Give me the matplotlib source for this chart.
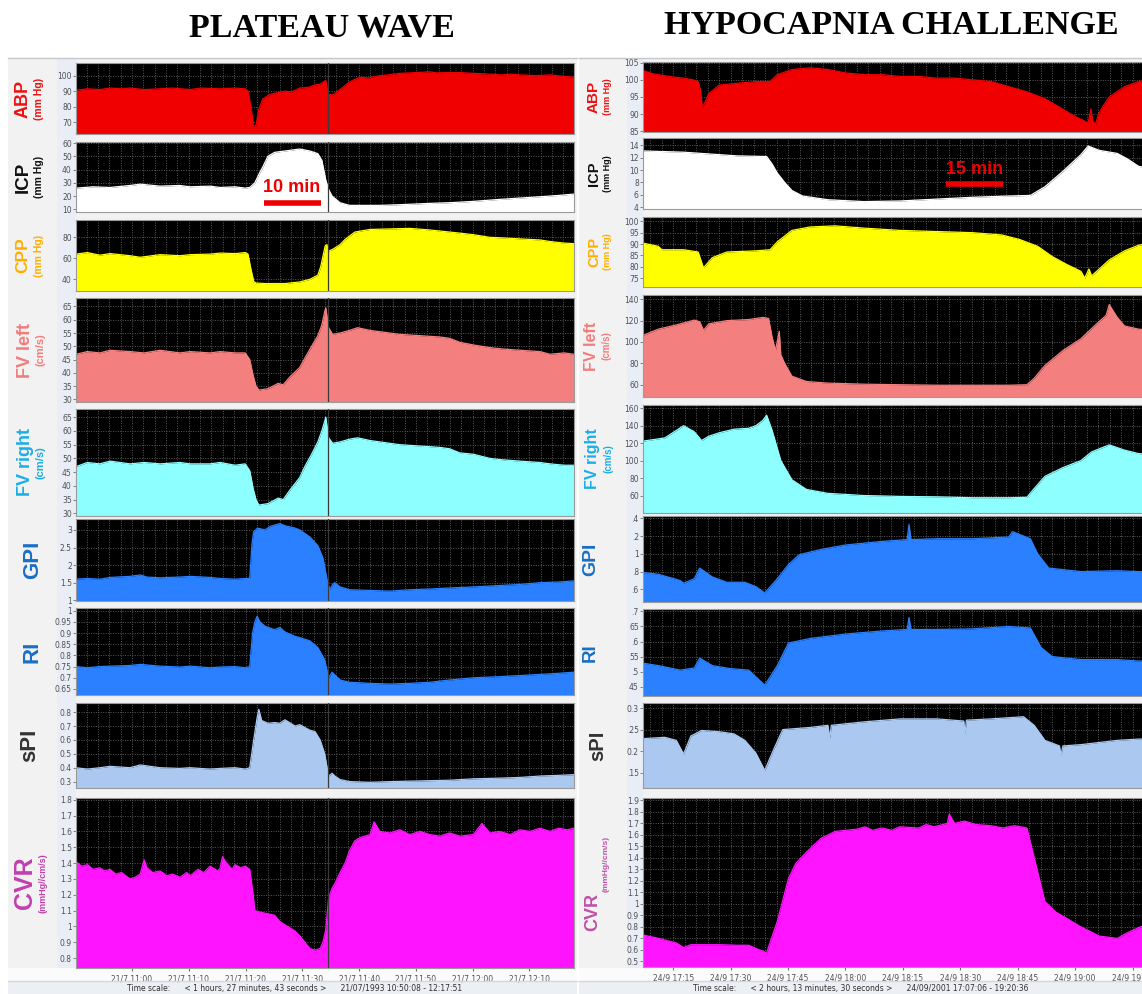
import matplotlib.pyplot as plt
from matplotlib.patches import Rectangle
from matplotlib.lines import Line2D

# ---------------- data: (minutes from start, value) ----------------
# left column: 21/07/1993 10:50:08 - 12:17:51
abp_left = [(0, 90.5), (2, 91.5), (4.2, 91), (6, 92), (8, 91.5), (9.5, 92), (12, 91), (14.8, 91.5),
            (17, 92), (20.1, 91), (22, 92), (25.4, 91.5), (28, 92), (29.8, 91.5), (30.3, 90), (30.8, 80),
            (31.3, 67), (31.7, 68), (32.2, 78), (32.9, 85), (34.2, 88), (36.8, 90), (38, 89.5), (39.4, 92),
            (41, 92.5), (42.1, 94), (43, 94.5), (44.0, 97), (44.4, 88), (45.2, 87.5), (46.5, 91), (48.2, 96),
            (50, 99), (51.5, 98.5), (53.5, 100), (55, 100.5), (57, 101.5), (60, 102), (62.3, 102.5),
            (63.5, 101.8), (65, 102), (67.6, 102), (70, 101.5), (72.9, 101), (75, 100.5), (76.5, 101),
            (78.2, 100.5), (81, 100), (83.5, 100.5), (86, 99.5), (87.7, 99)]
icp_left = [(0, 26), (3, 27), (6, 26.5), (9.5, 28), (11.3, 29), (14.8, 27.5), (18.3, 28), (20.1, 27),
            (23.6, 27.5), (25.4, 26.5), (28, 27), (29.8, 26), (30.6, 26.5), (31.5, 30), (32.4, 38),
            (32.9, 42), (33.8, 50), (35, 53), (36.8, 54), (39.4, 55.5), (41.2, 54), (42.6, 52), (43.3, 47),
            (44.0, 32), (44.5, 25), (45.1, 20), (46.5, 15), (48.2, 13), (53.5, 13), (57, 13.5), (62.3, 14.5),
            (65.8, 15), (70, 16), (74.6, 17.5), (78.2, 18.5), (81.7, 19.5), (85, 20.5), (87.7, 21.5)]
cpp_left = [(0, 64), (2, 65.5), (4.2, 63), (6, 64.5), (9.5, 62.5), (11.3, 61), (14.8, 63.5), (18.3, 62.5),
            (20.1, 63.5), (23.6, 64), (25.4, 65), (28, 64.5), (29.8, 65.5), (30.3, 64), (30.8, 50),
            (31.3, 38), (31.7, 36.5), (33.3, 36), (36.8, 36), (39.4, 37.5), (41.2, 40), (42.6, 44),
            (43.1, 52), (43.5, 62), (43.9, 72), (44.2, 73), (44.5, 67), (45.2, 68.5), (46.5, 73), (47.4, 78),
            (49.1, 85), (51.8, 87.5), (55.3, 88), (58.8, 88.5), (62.3, 87), (64.1, 86), (67.6, 84),
            (70, 82.5), (72.9, 80), (75, 79.5), (78.2, 78.5), (81.7, 77.5), (83.5, 76), (86, 74.5), (87.7, 74)]
fvl_left = [(0, 47), (2, 48), (4.2, 47.5), (6, 48.5), (9.5, 48), (12, 47.5), (14.8, 48.5), (18.3, 47.5),
            (20.1, 48), (23.6, 47.5), (25.4, 48), (28, 47.5), (29.8, 47.5), (30.6, 45), (31.2, 39),
            (31.7, 35), (32.2, 33.5), (33.8, 34), (35.6, 36), (36.5, 35.5), (37.7, 38.5), (39.4, 42),
            (40.3, 45.5), (41.5, 50), (42.6, 54), (43.3, 58), (43.8, 63), (44.0, 64.5), (44.5, 57),
            (45.2, 54.5), (46.5, 55), (48.2, 56), (49.6, 57), (51.8, 56), (53.5, 55.5), (57, 54.5),
            (60.6, 54), (64.1, 53.5), (65.8, 53), (67.6, 51.5), (70, 50.5), (72.9, 49.5), (75, 49),
            (78.2, 48.5), (81.7, 48), (83.5, 47), (86, 47.5), (87.7, 47)]
fvr_left = [(0, 47), (2, 48.5), (4.2, 48), (6, 49), (9.5, 48), (12, 48.5), (14.8, 48), (18.3, 48.5),
            (20.1, 48), (23.6, 48), (25.4, 48.5), (28, 47.5), (29.8, 48), (30.6, 45.5), (31.2, 39),
            (31.7, 35), (32.2, 33), (33.8, 33.5), (35.6, 35.5), (36.5, 35), (37.7, 38.5), (39.4, 43),
            (40.3, 47), (41.5, 51.5), (42.6, 56), (43.3, 60), (43.8, 63.5), (44.0, 65), (44.5, 57.5),
            (45.2, 55.5), (46.5, 56), (48.2, 57), (49.6, 57.5), (51.8, 56.5), (53.5, 56), (57, 55),
            (60.6, 54.5), (64.1, 54), (65.8, 53.5), (67.6, 52), (70, 51.5), (72.9, 50), (75, 49.5),
            (78.2, 49), (81.7, 48.5), (83.5, 48), (86, 47.5), (87.7, 47.5)]
gpi_left = [(0, 1.6), (2, 1.62), (4.2, 1.6), (6, 1.65), (9.5, 1.68), (11.3, 1.72), (12.5, 1.66),
            (14.8, 1.64), (18.3, 1.66), (20.1, 1.68), (23.6, 1.65), (25.4, 1.62), (28, 1.6), (29.8, 1.62),
            (30.6, 1.62), (31.0, 2.6), (31.3, 2.95), (32.0, 3.05), (33.3, 3.0), (34.2, 3.1), (35.9, 3.18),
            (36.8, 3.12), (38.6, 3.05), (39.4, 3.0), (41.2, 2.8), (42.6, 2.55), (43.5, 2.2), (44.2, 1.6),
            (44.7, 1.3), (45.2, 1.45), (45.6, 1.5), (46.5, 1.38), (48.2, 1.3), (51.8, 1.28), (55.3, 1.26),
            (58.8, 1.3), (62.3, 1.32), (65.8, 1.35), (70, 1.38), (74.6, 1.42), (78.2, 1.45), (81.7, 1.5),
            (85, 1.52), (87.7, 1.55)]
ri_left = [(0, 0.75), (2, 0.745), (4.2, 0.75), (6, 0.752), (9.5, 0.755), (11.3, 0.76), (14.8, 0.752),
           (18.3, 0.748), (20.1, 0.752), (23.6, 0.745), (25.4, 0.748), (28, 0.75), (29.8, 0.745),
           (30.6, 0.75), (31.1, 0.9), (31.5, 0.95), (31.9, 0.975), (32.4, 0.95), (33.3, 0.93), (35, 0.915),
           (35.9, 0.925), (36.8, 0.905), (38.6, 0.885), (39.4, 0.88), (41.2, 0.865), (42.6, 0.835),
           (43.8, 0.78), (44.5, 0.7), (45.1, 0.725), (46.5, 0.69), (48.2, 0.68), (51.8, 0.675),
           (55.3, 0.672), (58.8, 0.675), (62.3, 0.68), (65.8, 0.69), (70, 0.70), (74.6, 0.705),
           (78.2, 0.71), (81.7, 0.715), (85, 0.72), (87.7, 0.725)]
spi_left = [(0, 0.40), (2, 0.39), (4.2, 0.40), (6, 0.41), (9.5, 0.40), (11.3, 0.42), (14.8, 0.40),
            (18.3, 0.395), (20.1, 0.40), (23.6, 0.39), (25.4, 0.395), (28, 0.40), (29.8, 0.39), (30.6, 0.40),
            (31.3, 0.6), (31.9, 0.76), (32.2, 0.82), (32.7, 0.74), (33.8, 0.72), (35, 0.725), (35.9, 0.72),
            (36.8, 0.745), (38.6, 0.70), (39.4, 0.71), (41.2, 0.67), (42.1, 0.66), (43.0, 0.60),
            (43.8, 0.50), (44.5, 0.34), (45.1, 0.36), (45.6, 0.34), (46.5, 0.315), (48.2, 0.30),
            (51.8, 0.295), (55.3, 0.30), (60.6, 0.305), (65.8, 0.31), (70, 0.32), (74.6, 0.325),
            (78.2, 0.33), (81.7, 0.34), (85, 0.345), (87.7, 0.35)]
cvr_left = [(0, 1.41), (1, 1.38), (2, 1.39), (3, 1.36), (4.2, 1.37), (5, 1.35), (6, 1.36), (7, 1.33),
            (8, 1.34), (9.5, 1.30), (10.4, 1.31), (11.3, 1.33), (12, 1.42), (12.5, 1.37), (13.5, 1.34),
            (14.8, 1.35), (16, 1.32), (17, 1.33), (18.3, 1.31), (19.5, 1.34), (20.1, 1.32), (21.5, 1.36),
            (22.5, 1.34), (23.6, 1.38), (25, 1.35), (25.4, 1.37), (25.8, 1.44), (26.5, 1.40), (27.5, 1.36),
            (28, 1.39), (29, 1.37), (29.8, 1.38), (30.6, 1.36), (31.2, 1.20), (31.5, 1.10), (32.4, 1.09),
            (33.8, 1.08), (35, 1.07), (35.9, 1.03), (36.8, 1.01), (37.7, 0.99), (38.6, 0.97), (39.4, 0.94),
            (40.3, 0.90), (41.2, 0.86), (42.1, 0.85), (43.0, 0.86), (43.5, 0.90), (44.0, 0.98), (44.5, 1.18),
            (45.1, 1.24), (45.6, 1.27), (46.5, 1.34), (47.4, 1.40), (48.2, 1.48), (49.1, 1.54), (50, 1.56),
            (51.8, 1.58), (52.5, 1.66), (53.5, 1.60), (55.3, 1.59), (57, 1.61), (58.8, 1.58), (60.6, 1.60),
            (62.3, 1.58), (64.1, 1.57), (65.8, 1.59), (67.6, 1.57), (70, 1.58), (71.5, 1.65), (72.9, 1.59),
            (74.6, 1.60), (76.5, 1.58), (78.2, 1.61), (80, 1.60), (81.7, 1.62), (83.5, 1.60), (85, 1.62),
            (86.5, 1.61), (87.7, 1.62)]

# right column: 24/09/2001 17:07:06 - 19:20:36
abp_right = [(0, 103), (0.3, 102.6), (2.5, 101.8), (5.7, 101.2), (8, 100.8), (10.6, 100.5), (13, 100),
             (14.4, 99.5), (15.0, 97), (15.5, 92), (16.2, 93.5), (17.2, 96), (20.0, 98.5), (24.7, 99),
             (29.5, 99.5), (33.2, 99.5), (35.1, 101.5), (38.9, 103), (43.6, 103.5), (48.3, 103),
             (53.0, 102), (57.7, 101.5), (62.4, 101.5), (67.2, 101), (72.0, 101), (76.7, 100.5),
             (81.4, 100.5), (86.1, 100), (90.9, 99.5), (95.6, 98), (100.3, 96.5), (105.0, 94.5),
             (108.8, 92), (112.6, 89.5), (114.4, 88.5), (116.3, 87.5), (117.0, 91.5), (117.5, 88),
             (118.2, 87), (119, 90), (120.0, 92), (121.8, 95), (125.8, 98), (129.5, 99.5), (133.5, 100.5)]
icp_right = [(0, 13.1), (10.6, 12.9), (20, 12.5), (24.7, 12.3), (32.3, 12.2), (33.7, 11), (35.1, 9.5),
             (37, 8), (38.9, 6.7), (41.7, 5.8), (48.3, 5.2), (57.7, 4.9), (67.2, 5.0), (76.7, 5.3),
             (86.1, 5.6), (95.6, 5.8), (101.2, 5.9), (105, 7.3), (109.7, 9.8), (114.4, 12.5), (116.3, 13.9),
             (119.2, 13.2), (123.9, 12.7), (126.6, 11.8), (129.5, 10.6), (133.5, 10.2)]
cpp_right = [(0, 90.5), (0.3, 90.3), (4.0, 89), (4.9, 87.5), (10.6, 87.5), (14.4, 86.5), (15.8, 79.5),
             (18.1, 84), (21.9, 86.5), (29.5, 87), (33.2, 87.5), (35.1, 91), (38.9, 96), (43.6, 97.5),
             (50.2, 98), (57.7, 97), (67.2, 96), (76.7, 95.5), (86.1, 95), (93.7, 94), (98.4, 92),
             (103.1, 89), (106.9, 84.5), (110.7, 81), (114.4, 78), (115.4, 75), (116.5, 79), (117.2, 76),
             (118.2, 77.5), (121.8, 83), (125.8, 87), (129.5, 89.5), (133.5, 90.5)]
fvl_right = [(0, 106), (0.3, 106.7), (4.0, 112), (8.7, 116), (13.4, 120.5), (14.8, 119), (15.8, 111),
             (17.2, 117), (21.9, 120), (27.6, 121), (31.3, 123), (32.8, 122), (33.7, 105), (34.6, 92),
             (35.6, 110), (36.0, 88), (37.0, 80), (38.9, 68), (42.7, 63), (48.3, 61.5), (57.7, 60.5),
             (67.2, 60), (76.7, 59.5), (86.1, 59.5), (95.6, 59.5), (100.3, 60), (102.2, 66), (105, 78),
             (109.7, 92), (114.4, 103), (118.2, 116), (121, 125), (121.8, 135), (123.9, 123), (125.8, 115),
             (129.5, 112), (133.5, 111)]
fvr_right = [(0, 122), (0.3, 122.5), (5.7, 126), (10.6, 140), (13.4, 133), (15.3, 123), (17.2, 128),
             (20, 132), (23.8, 136), (27.6, 137), (29.5, 140), (31.3, 146), (32.3, 152), (33.7, 135),
             (36.0, 100), (38.9, 78), (42.7, 67), (48.3, 62.5), (57.7, 60), (67.2, 59), (76.7, 58.5),
             (86.1, 57.5), (95.6, 57.5), (100.3, 58), (102.2, 68), (105, 82), (109.7, 92), (114.4, 100),
             (117.2, 110), (121.8, 118), (125.8, 112), (129.5, 108), (133.5, 107)]
gpi_right = [(0, 0.79), (4.0, 0.77), (9.7, 0.70), (10.6, 0.67), (13.4, 0.72), (14.8, 0.84), (18.1, 0.74),
             (21.9, 0.68), (26.6, 0.68), (29.5, 0.63), (31.8, 0.56), (35.1, 0.72), (38.0, 0.88), (40.8, 0.99),
             (46.5, 1.05), (53.0, 1.10), (62.4, 1.14), (69.0, 1.16), (69.5, 1.33), (70, 1.16), (76.7, 1.17),
             (86.1, 1.17), (95.6, 1.19), (96.5, 1.25), (101.2, 1.17), (103.1, 1.0), (106, 0.84),
             (114.4, 0.80), (123.9, 0.81), (129.5, 0.80), (133.5, 0.80)]
ri_right = [(0, 0.528), (4.0, 0.52), (9.7, 0.505), (13.4, 0.512), (14.8, 0.545), (18.1, 0.52),
            (22.8, 0.51), (27.6, 0.505), (31.8, 0.455), (35.1, 0.52), (38.0, 0.595), (43.6, 0.61),
            (53.0, 0.625), (62.4, 0.635), (69.0, 0.64), (69.5, 0.68), (70, 0.64), (76.7, 0.64), (86.1, 0.642),
            (95.6, 0.65), (101.2, 0.645), (104, 0.58), (106.9, 0.55), (114.4, 0.54), (123.9, 0.54),
            (129.5, 0.535), (133.5, 0.535)]
spi_right = [(0, 0.229), (5.7, 0.232), (8.7, 0.225), (10.6, 0.193), (12.5, 0.235), (15.3, 0.248),
             (20, 0.245), (23.8, 0.24), (26.6, 0.225), (29.5, 0.195), (31.8, 0.155), (34.2, 0.205),
             (36.5, 0.25), (43.6, 0.255), (48.3, 0.26), (48.8, 0.23), (49.2, 0.26), (57.7, 0.268),
             (67.2, 0.275), (76.7, 0.275), (83.8, 0.27), (84.1, 0.24), (84.5, 0.272), (90.9, 0.275),
             (99.4, 0.28), (102.2, 0.26), (105, 0.225), (108.8, 0.212), (109.2, 0.19), (109.7, 0.212),
             (114.4, 0.215), (123.9, 0.225), (129.5, 0.228), (133.5, 0.228)]
cvr_right = [(0, 0.73), (4.0, 0.70), (8.7, 0.66), (10.6, 0.62), (12.5, 0.645), (20, 0.645), (24.7, 0.64),
             (27.6, 0.64), (30.4, 0.60), (32.3, 0.575), (35.1, 0.85), (38.0, 1.22), (39.9, 1.35),
             (42.7, 1.45), (46.5, 1.57), (50.2, 1.63), (55.9, 1.65), (58, 1.67), (60, 1.64), (62.4, 1.66),
             (65, 1.64), (67, 1.67), (72.0, 1.66), (74, 1.69), (76, 1.67), (79.5, 1.70), (80, 1.78),
             (81.4, 1.70), (84, 1.72), (87, 1.69), (90.9, 1.68), (94, 1.66), (97, 1.68), (100.3, 1.66),
             (102.2, 1.4), (105, 1.02), (107.8, 0.93), (114.4, 0.80), (119.2, 0.72), (123.9, 0.70),
             (126.6, 0.75), (129.9, 0.80), (133.5, 0.82)]

left_names = ["ABP", "ICP", "CPP", "FV left", "FV right", "GPI", "RI", "sPI", "CVR"]
left_units = ["(mm Hg)", "(mm Hg)", "(mm Hg)", "(cm/s)", "(cm/s)", None, None, None, "(mmHg//cm/s)"]
left_data = [abp_left, icp_left, cpp_left, fvl_left, fvr_left, gpi_left, ri_left, spi_left, cvr_left]
right_data = [abp_right, icp_right, cpp_right, fvl_right, fvr_right, gpi_right, ri_right, spi_right, cvr_right]

left_yticks = [[70, 80, 90, 100], [10, 20, 30, 40, 50, 60], [40, 60, 80], [30, 35, 40, 45, 50, 55, 60, 65],
               [30, 35, 40, 45, 50, 55, 60, 65], [1, 1.5, 2, 2.5, 3],
               [0.65, 0.7, 0.75, 0.8, 0.85, 0.9, 0.95, 1], [0.3, 0.4, 0.5, 0.6, 0.7, 0.8],
               [0.8, 0.9, 1, 1.1, 1.2, 1.3, 1.4, 1.5, 1.6, 1.7, 1.8]]
right_yticks = [[85, 90, 95, 100, 105], [4, 6, 8, 10, 12, 14], [75, 80, 85, 90, 95, 100],
                [60, 80, 100, 120, 140], [60, 80, 100, 120, 140, 160], [0.6, 0.8, 1, 1.2, 1.4],
                [0.45, 0.5, 0.55, 0.6, 0.65, 0.7], [0.15, 0.2, 0.25, 0.3],
                [0.5, 0.6, 0.7, 0.8, 0.9, 1, 1.1, 1.2, 1.3, 1.4, 1.5, 1.6, 1.7, 1.8, 1.9]]
# truncated labels as printed on the right-hand screen capture
right_ylabels = [None, None, None, None, None, [".6", ".8", "1", ".2", ".4"],
                 ["45", ".5", "55", ".6", "65", ".7"], [".15", "0.2", ".25", "0.3"], None]

left_start = (10 * 60 + 50 + 8 / 60, 87.72)     # (clock minutes, duration)
right_start = (17 * 60 + 7 + 6 / 60, 133.5)
left_tick_clock = ["11:00", "11:10", "11:20", "11:30", "11:40", "11:50", "12:00", "12:10"]
right_tick_clock = ["17:15", "17:30", "17:45", "18:00", "18:15", "18:30", "18:45", "19:00", "19:15"]

# ---------------- styling / layout ----------------
fills = ["#f00000", "#ffffff", "#ffff00", "#f47f7f", "#8effff", "#2a80ff", "#2a80ff", "#aac8f0", "#ff14ff"]
label_colors = ["#ee1111", "#111111", "#ffae00", "#f27c7c", "#19aee8", "#1a6fc4", "#1a6fc4", "#333333", "#c23fae"]

left_ylim = [(62.3, 108.2), (8, 60.8), (28.9, 96.5), (29, 68.2), (29, 68), (0.98, 3.31), (0.623, 1.012),
             (0.254, 0.866), (0.737, 1.811)]
right_ylim = [(84.8, 105.2), (3.7, 15.2), (71.1, 101.9), (48.5, 144), (40, 163.7), (0.458, 1.426),
              (0.419, 0.708), (0.114, 0.312), (0.451, 1.921)]
left_rows = [(63, 134), (142, 212), (220, 291), (298, 402), (409, 516), (519, 601), (608, 695), (703, 788), (798, 968)]
right_rows = [(62, 132), (138, 209), (217, 287), (295, 397), (405, 513), (516, 602), (609, 696), (703, 788), (798, 967)]
left_x = (76, 574)
right_x = (643, 1154)

left_lab = [(23, 13, 39, 7.5), (23, 13.5, 39, 7.5), (23, 12.5, 39, 7.5), (25, 13, 40, 8), (25, 13, 40, 8),
            (33, 16, 0, 0), (32, 16, 0, 0), (30, 16, 0, 0), (25, 18, 43, 6.5)]
right_lab = [(594, 11, 608, 6.5), (594, 10.5, 608, 6.5), (594, 10.5, 608, 6.5), (592, 11.5, 607, 7),
             (593, 11.5, 608, 7), (591, 14, 0, 0), (590, 13.5, 0, 0), (598, 14.5, 0, 0), (593, 13, 606, 6)]

W, H = 1142, 994
fig = plt.figure(figsize=(W / 100, H / 100), dpi=100)
fig.patch.set_facecolor("white")


def fx(x):
    return x / W


def fy(y):
    return 1 - y / H


def rect(x0, y0, x1, y1, color, z=0):
    fig.add_artist(Rectangle((fx(x0), fy(y1)), (x1 - x0) / W, (y1 - y0) / H,
                             transform=fig.transFigure, color=color, lw=0, zorder=z))


# grey label columns, tick strips, bottom strips
rect(8, 58, 577, 970, "#f2f2f2")
rect(579, 58, 1142, 970, "#f2f2f2")
rect(57, 58, 76, 968, "#e9eef6")
rect(627, 58, 643, 968, "#e9eef6")
rect(8, 968, 577, 981, "#fbfbfb")
rect(579, 968, 1142, 981, "#fbfbfb")
rect(8, 981, 577, 994, "#eceff3")
rect(579, 981, 1142, 994, "#eceff3")
for x0, x1 in [(8, 577), (579, 1142)]:
    fig.add_artist(Line2D([fx(x0), fx(x1)], [fy(58), fy(58)], transform=fig.transFigure, color="#c4c8cd", lw=1))
    fig.add_artist(Line2D([fx(x0), fx(x1)], [fy(981), fy(981)], transform=fig.transFigure, color="#d4d8dd", lw=1))


def draw_column(data, rows, xr, ylims, yticks, ylabels, start, tick_clock, date, grid_step, labs, event):
    t0, dur = start
    axes = []
    for i, series in enumerate(data):
        y0, y1 = rows[i]
        ax = fig.add_axes([fx(xr[0]), fy(y1), (xr[1] - xr[0]) / W, (y1 - y0) / H])
        ax.set_facecolor("black")
        t = [p[0] for p in series]
        v = [p[1] for p in series]
        ax.fill_between(t, v, ylims[i][0], color=fills[i], lw=0, zorder=2)
        ax.plot(t, v, color=fills[i], lw=0.9, zorder=2)
        if event is not None:
            ax.axvline(event, color="#3a3a3a", lw=0.9, zorder=3)
        ax.set_xlim(0, dur)
        ax.set_ylim(*ylims[i])
        ax.set_yticks(yticks[i])
        if ylabels[i] is not None:
            ax.set_yticklabels(ylabels[i])
        else:
            ax.set_yticklabels(["%g" % y for y in yticks[i]])
        major = [int(c[:2]) * 60 + int(c[3:]) - t0 for c in tick_clock]
        minor = []
        m = grid_step - (t0 % grid_step)
        while m < dur:
            minor.append(m)
            m += grid_step
        ax.set_xticks(major)
        ax.set_xticks(minor, minor=True)
        ax.set_axisbelow(True)
        ax.grid(True, which="both", axis="x", color="#5a5a5a", lw=0.7, ls=(0, (1, 1.5)))
        ax.grid(True, which="major", axis="y", color="#5a5a5a", lw=0.7, ls=(0, (1, 1.5)))
        ax.tick_params(axis="y", labelsize=5.5, length=2, width=0.6, color="#707070",
                       labelcolor="#505050", pad=1)
        ax.tick_params(axis="x", which="both", length=0)
        if i == len(data) - 1:
            ax.set_xticklabels([date + " " + c for c in tick_clock])
            ax.tick_params(axis="x", labelsize=5.5, labelcolor="#505050", pad=3, length=2, color="#707070")
        else:
            ax.set_xticklabels([])
        for s in ax.spines.values():
            s.set_color("#9a9a9a")
            s.set_linewidth(0.8)
        axes.append(ax)
    return axes


left_axes = draw_column(left_data, left_rows, left_x, left_ylim, left_yticks, [None] * 9, left_start,
                        left_tick_clock, "21/7", 2, left_lab, 44.4)
right_axes = draw_column(right_data, right_rows, right_x, right_ylim, right_yticks, right_ylabels,
                         right_start, right_tick_clock, "24/9", 3, right_lab, None)

# channel names and units
for rows, labs, side in [(left_rows, left_lab, "left"), (right_rows, right_lab, "right")]:
    for i, name in enumerate(left_names):
        y0, y1 = rows[i]
        ymid = (y0 + y1) / 2
        lx, ls, ux, us = labs[i]
        col = label_colors[i]
        name_y, unit_y = ymid, ymid
        if side == "right" and name == "CVR":
            col = "#c050a8"
            name_y, unit_y = 912, 864
        fig.text(fx(lx), fy(name_y), name, rotation=90, ha="center", va="center", fontsize=ls,
                 fontweight="bold", color=col, family="Liberation Sans")
        if left_units[i] is not None:
            fig.text(fx(ux), fy(unit_y), left_units[i], rotation=90, ha="center", va="center", fontsize=us,
                     fontweight="bold", color=col, family="Liberation Sans")

# scale bars
ax = left_axes[1]
ax.text(37.9, 26.7, "10 min", color="#ee0000", fontsize=13, fontweight="bold", ha="center", va="center",
        family="Liberation Sans", zorder=5)
ax.plot([33.1, 43.1], [14.7, 14.7], color="#ee0000", lw=4, solid_capstyle="butt", zorder=5)
ax = right_axes[1]
ax.text(86.7, 10.05, "15 min", color="#ee0000", fontsize=13, fontweight="bold", ha="center", va="center",
        family="Liberation Sans", zorder=5)
ax.plot([79.1, 94.1], [7.8, 7.8], color="#ee0000", lw=4, solid_capstyle="butt", zorder=5)

# titles
fig.text(fx(322), fy(28), "PLATEAU WAVE", ha="center", va="center", fontsize=24.5, fontweight="bold",
         family="Liberation Serif")
fig.text(fx(891), fy(26), "HYPOCAPNIA CHALLENGE", ha="center", va="center", fontsize=24.5,
         fontweight="bold", family="Liberation Serif")

# time-scale footers
fig.text(fx(295), fy(988.5), "Time scale:      < 1 hours, 27 minutes, 43 seconds >      21/07/1993 10:50:08 - 12:17:51",
         ha="center", va="center", fontsize=5.5, color="#303030")
fig.text(fx(861), fy(988.5), "Time scale:      < 2 hours, 13 minutes, 30 seconds >      24/09/2001 17:07:06 - 19:20:36",
         ha="center", va="center", fontsize=5.5, color="#303030")

fig.savefig("out.png", dpi=100)
